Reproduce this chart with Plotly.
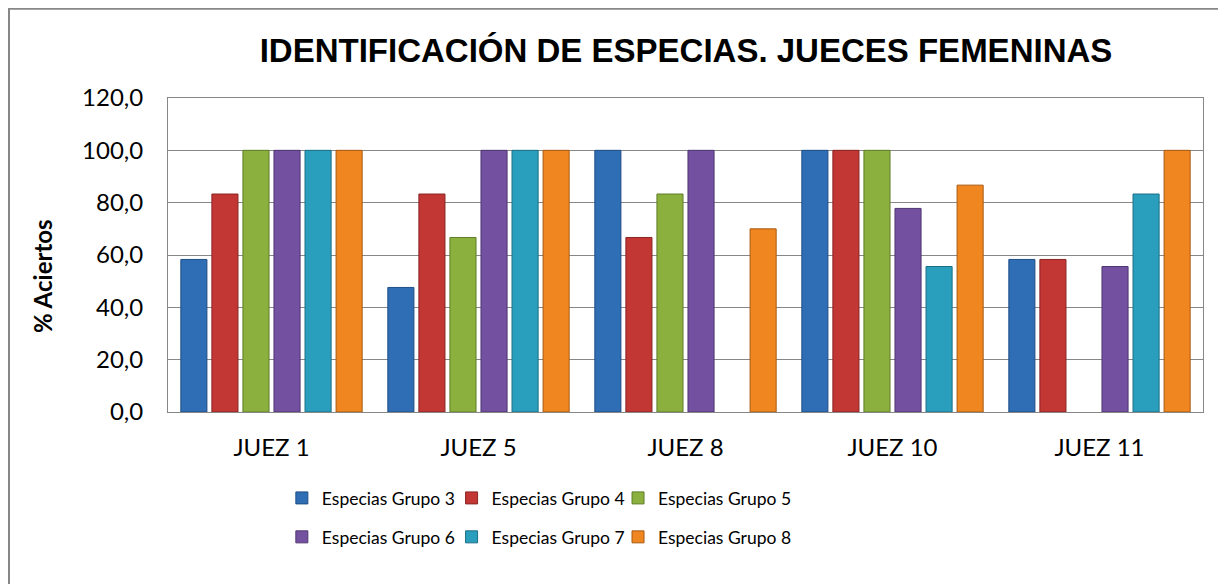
import plotly.graph_objects as go

jueces = ['JUEZ 1', 'JUEZ 5', 'JUEZ 8', 'JUEZ 10', 'JUEZ 11']

grupo_3 = [58.3, 47.6, 100.0, 100.0, 58.3]
grupo_4 = [83.3, 83.3, 66.7, 100.0, 58.3]
grupo_5 = [100.0, 66.7, 83.3, 100.0, None]
grupo_6 = [100.0, 100.0, 100.0, 77.8, 55.6]
grupo_7 = [100.0, 100.0, None, 55.6, 83.3]
grupo_8 = [100.0, 100.0, 70.0, 86.7, 100.0]

series = [
    ('Especias Grupo 3', grupo_3, '#2F6DB4', '#1F4E85'),
    ('Especias Grupo 4', grupo_4, '#C23634', '#8A2423'),
    ('Especias Grupo 5', grupo_5, '#8BB03E', '#5F7D27'),
    ('Especias Grupo 6', grupo_6, '#7351A0', '#4F3673'),
    ('Especias Grupo 7', grupo_7, '#2A9FBD', '#1B6F85'),
    ('Especias Grupo 8', grupo_8, '#F0861F', '#A85A12'),
]

# one legend per entry so the 3 + 3 layout can be placed like the original
leg_x = [0.1100, 0.2740, 0.4348]
leg_y = [-0.274, -0.398]

fig = go.Figure()
legends = {}
for i, (name, vals, color, edge) in enumerate(series):
    key = 'legend' if i == 0 else 'legend%d' % (i + 1)
    fig.add_trace(go.Bar(x=jueces, y=vals, name=name, legend=key, showlegend=True,
                         marker=dict(color=color, line=dict(color=edge, width=1))))
    legends[key] = dict(orientation='h', x=leg_x[i % 3], xanchor='left',
                        y=leg_y[i // 3], yanchor='middle',
                        font=dict(size=17.5), bgcolor='rgba(0,0,0,0)')

GRID = '#878787'
TXT = 'Lato, Carlito, sans-serif'

fig.update_layout(
    width=1226, height=584,
    margin=dict(l=160, r=31, t=90, b=180),
    paper_bgcolor='white', plot_bgcolor='white',
    separators=',.',
    showlegend=True,
    barmode='group', bargap=0.10, bargroupgap=0.16,
    title=dict(text='<b>IDENTIFICACIÓN DE ESPECIAS. JUECES FEMENINAS</b>',
               x=678 / 1226, xanchor='center', y=1 - 42 / 584, yanchor='middle',
               font=dict(family='Liberation Sans, Arial', size=33, color='black')),
    font=dict(family=TXT, color='black'),
    **legends,
)

fig.update_yaxes(range=[0, 120], dtick=20, tickformat='.1f',
                 showgrid=True, gridcolor=GRID, gridwidth=1,
                 showline=True, linecolor=GRID, linewidth=1, mirror=True,
                 ticks='', ticklabelstandoff=19, zeroline=False,
                 tickfont=dict(size=24), automargin=False)
fig.update_xaxes(showline=True, linecolor=GRID, linewidth=1, mirror=True,
                 ticks='', ticklabelstandoff=14, tickfont=dict(size=24),
                 automargin=False)

# y axis title, placed a bit below centre as in the original
fig.add_annotation(text='<b>% Aciertos</b>', textangle=-90,
                   xref='paper', yref='paper', x=-0.1217, y=0.433,
                   xanchor='center', yanchor='middle', showarrow=False,
                   font=dict(size=24, family=TXT))

# outer chart frame
fig.add_shape(type='rect', xref='paper', yref='paper',
              x0=-0.15362, y0=1.28424, x1=1.2, y1=-0.8,
              line=dict(color=GRID, width=2), layer='below')

fig.write_html('out.html')
